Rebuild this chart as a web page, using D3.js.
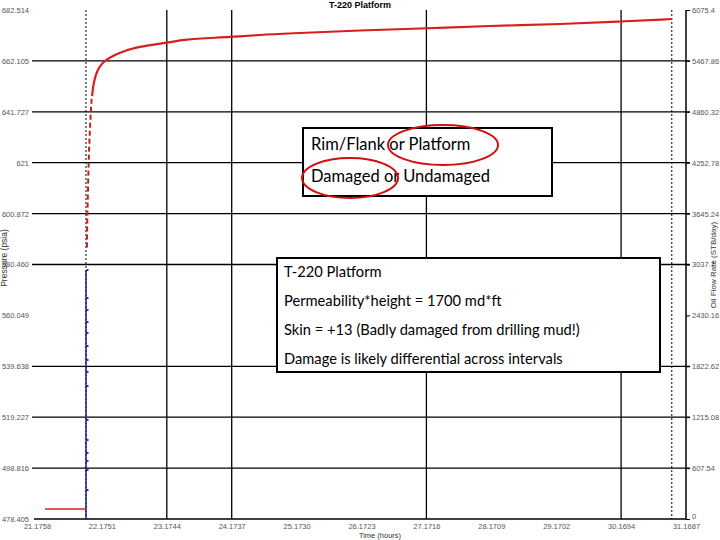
<!DOCTYPE html>
<html><head><meta charset="utf-8">
<script src="https://cdn.jsdelivr.net/npm/d3@7"></script>
<style>body{margin:0;background:#fff;}svg{display:block;}</style>
</head><body>
<svg id="c" width="720" height="540"></svg>
<script>
// ---- data ----
const xTickLabels = ["21.1758","22.1751","23.1744","24.1737","25.1730","26.1723","27.1716","28.1709","29.1702","30.1694","31.1687"];
const leftTickLabels = ["478.405","498.816","519.227","539.638","560.049","580.460","600.872","621","641.727","662.105","682.514"];
const rightTickLabels = ["0","607.54","1215.08","1822.62","2430.16","3037.7","3645.24","4252.78","4860.32","5467.86","6075.4"];
const timeDomain = [21.1758, 31.1687];
const pressureDomain = [478.405, 682.514];
const rateDomain = [0, 6075.4];
// flowing pressure before shut-in
const flowTime = [21.299, 21.930];
const flowPressure = [482.4, 482.4];
// early buildup points (markers)
const earlyTime = [21.945,21.946,21.948,21.950,21.952,21.955,21.958,21.961,21.964,21.967,21.970,21.974,21.978,21.983,21.988,21.994,22.000,22.007,22.015];
const earlyPressure = [588.3,591.5,594.7,597.9,601.1,604.3,607.5,610.7,613.9,617.1,620.3,623.5,626.7,629.9,633.1,636.3,639.5,642.7,645.9];
// buildup curve
const buildTime = [22.024,22.038,22.069,22.115,22.177,22.269,22.377,22.531,22.762,23.147,23.454,24.147,24.609,25.225,26.149,27.073,28.151,29.229,30.152,30.953];
const buildPressure = [648.0,651.2,655.2,658.5,660.9,662.9,664.5,666.1,667.7,669.3,670.5,671.7,672.5,673.3,674.3,675.1,676.1,676.9,677.9,678.9];
// oil rate during shut-in drop
const rateTime = [21.930,21.930,21.930,21.930,21.930,21.930,21.930,21.930,21.930,21.930,21.930,21.930,21.930,21.930,21.930,21.930];
const rateValues = [2972,2638,2495,2351,2220,2065,1898,1755,1587,1182,943,788,692,585,346,0];
const markerLines = [21.930, 30.95];
const gridYIdx = [1,2,3,5,6,7,8,9];
const gridXIdx = [2,3,6,9];

// ---- chart ----
const svg = d3.select("#c");
const L = 37, R = 686, T = 10, B = 519;
const x = d3.scaleLinear().domain(timeDomain).range([L, R]);
const yL = d3.scaleLinear().domain(pressureDomain).range([B, T]);
const yR = d3.scaleLinear().domain(rateDomain).range([B, T]);
const xTicks = xTickLabels.map((d,i)=>timeDomain[0]+i*(timeDomain[1]-timeDomain[0])/10);
const yTicks = leftTickLabels.map((d,i)=>pressureDomain[0]+i*(pressureDomain[1]-pressureDomain[0])/10);
const rTicks = rightTickLabels.map((d,i)=>rateDomain[0]+i*(rateDomain[1]-rateDomain[0])/10);

// horizontal grid
svg.append("g").selectAll("line").data(gridYIdx).join("line")
  .attr("x1", L-5).attr("x2", R+4)
  .attr("y1", i=>yL(yTicks[i])).attr("y2", i=>yL(yTicks[i]))
  .attr("stroke","#000").attr("stroke-width",1.3);
// vertical grid
svg.append("g").selectAll("line").data(gridXIdx).join("line")
  .attr("x1", i=>x(xTicks[i])).attr("x2", i=>x(xTicks[i]))
  .attr("y1", T).attr("y2", B)
  .attr("stroke","#000").attr("stroke-width",1.3);

// axes
const fontTick = "Liberation Sans, Arial, sans-serif";
const xAxis = d3.axisBottom(x).tickValues(xTicks).tickFormat((d,i)=>xTickLabels[i]).tickSize(0).tickPadding(5);
const gx = svg.append("g").attr("transform",`translate(0,${B})`).call(xAxis);
gx.select(".domain").attr("stroke","#000").attr("stroke-width",1.5).attr("d",`M${L-3},0H${R}`);
gx.selectAll("text").attr("font-size",7.5).attr("font-family",fontTick).attr("fill","#555");

const yAxis = d3.axisLeft(yL).tickValues(yTicks).tickFormat((d,i)=>leftTickLabels[i]).tickSize(0).tickPadding(8);
const gy = svg.append("g").attr("transform",`translate(${L},0)`).call(yAxis);
gy.select(".domain").remove();
gy.selectAll("text").attr("font-size",7.5).attr("font-family",fontTick).attr("fill","#555");

const rAxis = d3.axisRight(yR).tickValues(rTicks).tickFormat((d,i)=>rightTickLabels[i]).tickSize(4).tickPadding(2);
const gr = svg.append("g").attr("transform",`translate(${R},0)`).call(rAxis);
gr.select(".domain").attr("stroke","#000").attr("stroke-width",1.5).attr("d",`M0,${T}V${B}`);
gr.selectAll("line").attr("stroke","#000");
gr.selectAll("text").attr("font-size",7.5).attr("font-family",fontTick).attr("fill","#555");
gr.selectAll("text").filter((d,i)=>i===0).attr("dy","-0.1em");

// dotted marker lines
svg.append("g").selectAll("line").data(markerLines).join("line")
  .attr("x1", d=>x(d)).attr("x2", d=>x(d)).attr("y1", T).attr("y2", B)
  .attr("stroke","#000").attr("stroke-width",1).attr("stroke-dasharray","2,2");

// rate (blue)
const rateData = rateTime.map((t,i)=>[t,rateValues[i]]);
svg.append("path").datum(rateData)
  .attr("d", d3.line().x(d=>x(d[0])).y(d=>yR(d[1])))
  .attr("fill","none").attr("stroke","#1c1c8c").attr("stroke-width",1.5);
svg.append("g").selectAll("rect").data(rateData).join("rect")
  .attr("x", d=>x(d[0])+0.5).attr("y", d=>yR(d[1])-1).attr("width",2).attr("height",2)
  .attr("fill","#2a2ab0");

// pressure (red)
const lineP = d3.line().x(d=>x(d[0])).y(d=>yL(d[1]));
svg.append("path").datum(flowTime.map((t,i)=>[t,flowPressure[i]]))
  .attr("d", lineP).attr("fill","none").attr("stroke","#d62020").attr("stroke-width",1.5);
svg.append("g").selectAll("rect").data(earlyTime.map((t,i)=>[t,earlyPressure[i]])).join("rect")
  .attr("x", d=>x(d[0])-1).attr("y", d=>yL(d[1])-2.5).attr("width",2).attr("height",5)
  .attr("fill","#c81c1c");
svg.append("path").datum(buildTime.map((t,i)=>[t,buildPressure[i]]))
  .attr("d", d3.line().curve(d3.curveMonotoneX).x(d=>x(d[0])).y(d=>yL(d[1])))
  .attr("fill","none").attr("stroke","#d81e1e").attr("stroke-width",2.2);

// titles
svg.append("text").attr("x",360).attr("y",8).attr("text-anchor","middle")
  .attr("font-family",fontTick).attr("font-size",9).attr("font-weight","bold").text("T-220 Platform");
svg.append("text").attr("x",380).attr("y",538).attr("text-anchor","middle")
  .attr("font-family",fontTick).attr("font-size",7.5).attr("fill","#333").text("Time (hours)");
svg.append("text").attr("transform","translate(7,258) rotate(-90)").attr("text-anchor","middle")
  .attr("font-family",fontTick).attr("font-size",8.5).attr("fill","#333").text("Pressure (psia)");
svg.append("text").attr("transform","translate(716,265) rotate(-90)").attr("text-anchor","middle")
  .attr("font-family",fontTick).attr("font-size",8).attr("fill","#333").text("Oil Flow Rate (STB/day)");

// annotation boxes
const fontBox = "Lato, 'Open Sans', sans-serif";
svg.append("rect").attr("x",303).attr("y",128).attr("width",249).attr("height",68)
  .attr("fill","#fff").attr("stroke","#000").attr("stroke-width",2);
svg.append("text").attr("x",311).attr("y",150).attr("font-family",fontBox).attr("font-size",16.5).text("Rim/Flank or Platform");
svg.append("text").attr("x",311).attr("y",182).attr("font-family",fontBox).attr("font-size",16.5).text("Damaged or Undamaged");
svg.append("ellipse").attr("cx",443).attr("cy",145).attr("rx",55).attr("ry",20)
  .attr("fill","none").attr("stroke","#d01010").attr("stroke-width",2);
svg.append("ellipse").attr("cx",350).attr("cy",178).attr("rx",48).attr("ry",20)
  .attr("fill","none").attr("stroke","#d01010").attr("stroke-width",2);

svg.append("rect").attr("x",277).attr("y",258).attr("width",383).attr("height",114)
  .attr("fill","#fff").attr("stroke","#000").attr("stroke-width",2);
const lines2 = ["T-220 Platform","Permeability*height = 1700 md*ft","Skin = +13 (Badly damaged from drilling mud!)","Damage is likely differential across intervals"];
svg.append("g").selectAll("text").data(lines2).join("text")
  .attr("x",284).attr("y",(d,i)=>277+i*29).attr("font-family",fontBox).attr("font-size",14.7).text(d=>d);
</script>
</body></html>
